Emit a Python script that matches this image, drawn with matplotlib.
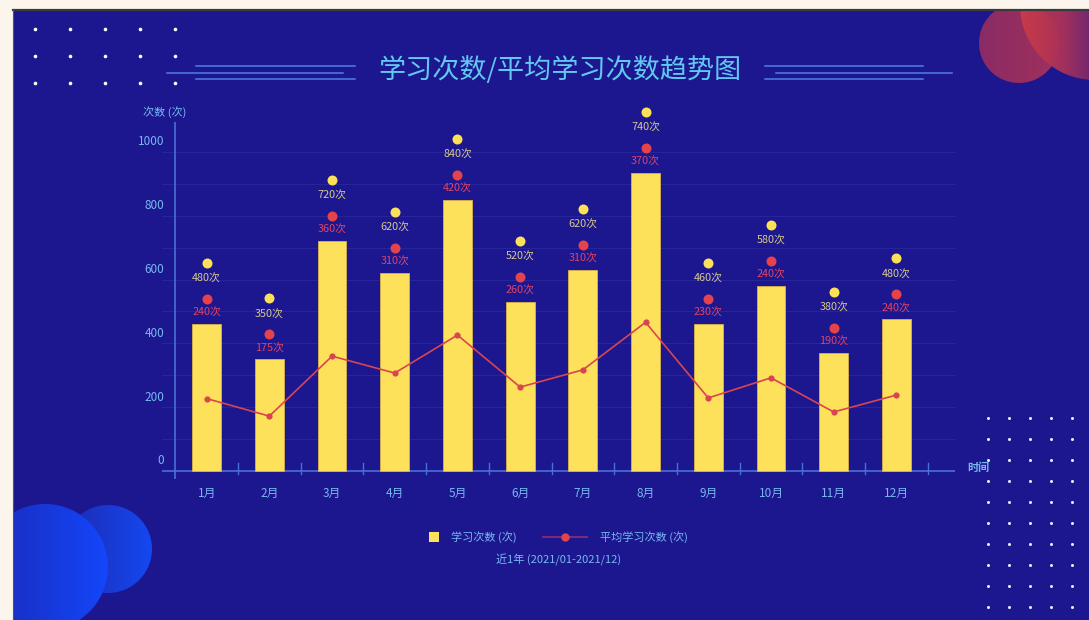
import numpy as np
import matplotlib
matplotlib.use('Agg')
import matplotlib.pyplot as plt
from matplotlib.patches import Circle, Rectangle
from matplotlib.colors import LinearSegmentedColormap
from matplotlib.transforms import ScaledTranslation

plt.rcParams['font.family'] = ['Noto Sans CJK SC', 'DejaVu Sans']

# data
months = ['1月', '2月', '3月', '4月', '5月', '6月', '7月', '8月', '9月', '10月', '11月', '12月']
study_counts = [460, 350, 720, 620, 850, 530, 630, 935, 460, 580, 370, 475]
avg_counts = [227, 172, 360, 307, 426, 263, 317, 466, 229, 292, 185, 238]
study_labels = [480, 350, 720, 620, 840, 520, 620, 740, 460, 580, 380, 480]
avg_labels = [240, 175, 360, 310, 420, 260, 310, 370, 230, 240, 190, 240]
yticks = [0, 200, 400, 600, 800, 1000]

W, H = 1089, 620
BG = '#1c178f'
CREAM = '#fcf5ee'
TXT = '#78b8f0'
YEL = '#fde15b'
RED = '#e5434c'

fig = plt.figure(figsize=(W / 100, H / 100), dpi=100)
fig.patch.set_facecolor(CREAM)

# background layer in pixel coordinates
bg = fig.add_axes([0, 0, 1, 1])
bg.axis('off')
bg.add_patch(Rectangle((13, 10), W - 13, H - 10, facecolor=BG, edgecolor='none', zorder=0))


def grad_circle(cx, cy, r, colors, alpha=1.0, z=1):
    circ = Circle((cx, cy), r, facecolor='none', edgecolor='none')
    bg.add_patch(circ)
    grad = np.linspace(0, 1, 256).reshape(1, -1)
    cmap = LinearSegmentedColormap.from_list('g', colors)
    im = bg.imshow(grad, extent=(cx - r, cx + r, cy + r, cy - r), cmap=cmap,
                   alpha=alpha, aspect='auto', zorder=z, interpolation='bilinear')
    im.set_clip_path(circ)


# decorative circles
grad_circle(1019, 43, 40, ['#8a2b66', '#a0305a'], z=1)
grad_circle(1095, 5, 75, [(0, '#cc3b48'), (0.3, '#a8325a'), (0.45, '#7e2a6c'), (1, '#6c2670')],
            alpha=0.95, z=2)
grad_circle(108, 549, 44, ['#1f2ab0', '#1448f2'], z=1)
grad_circle(45, 567, 63, ['#1a2ab8', '#1446fa'], z=2)

# dot grids
for yy in [28.5, 55.6, 82.7]:
    bg.plot([35, 70, 105, 140, 175], [yy] * 5, 'o', color='white', ms=2.6, mec='none', zorder=3)
for yy in np.arange(418, 610, 21):
    bg.plot([988, 1009, 1030, 1051, 1072], [yy] * 5, 'o', color='#e8e8ff', ms=2.2, mec='none', zorder=3)

# lines around the title
for x0, x1, yy in [(196, 355, 66), (167, 343, 73), (196, 355, 78.5),
                   (765, 923, 66), (776, 952, 73), (765, 923, 78.5)]:
    bg.plot([x0, x1], [yy, yy], color='#4f7fe6', lw=1.1, zorder=3)

# cream margins and border
bg.add_patch(Rectangle((0, 0), W, 10, facecolor=CREAM, edgecolor='none', zorder=5))
bg.add_patch(Rectangle((0, 0), 13, H, facecolor=CREAM, edgecolor='none', zorder=5))
bg.plot([13, W], [10, 10], color='#3a3a3a', lw=1.6, zorder=6)
bg.plot([13, 13], [10, H], color='#555555', lw=0.8, zorder=6)

# legend drawn by hand
bg.add_patch(Rectangle((429, 532), 10, 10, facecolor=YEL, edgecolor='none', zorder=3))
bg.text(451, 537, '学习次数 (次)', color=TXT, fontsize=8, va='center', ha='left', zorder=3)
bg.plot([543, 587], [537, 537], color='#7a2a78', lw=1.5, zorder=3)
bg.plot([565], [537], 'o', color=RED, ms=6, mec='none', zorder=4)
bg.text(600, 537, '平均学习次数 (次)', color=TXT, fontsize=8, va='center', ha='left', zorder=3)
bg.text(559, 560, '近1年 (2021/01-2021/12)', color=TXT, fontsize=8, va='center', ha='center', zorder=3)

bg.text(560, 70, '学习次数/平均学习次数趋势图', color='#62c8f2', fontsize=19.5,
        ha='center', va='center', zorder=3)
bg.text(165, 112, '次数 (次)', color=TXT, fontsize=8, ha='center', va='center', zorder=3)
bg.text(978, 467, '时间', color=TXT, fontsize=8, ha='center', va='center',
        fontweight='bold', zorder=3)

bg.set_xlim(0, W)
bg.set_ylim(H, 0)

# chart axes
ax = fig.add_axes([162 / W, 1 - 479 / H, (955 - 162) / W, (479 - 122) / H])
ax.patch.set_alpha(0)
for s in ax.spines.values():
    s.set_visible(False)
ax.set_xticks([])
ax.set_yticks([])
ax.set_xlim(-0.712, 11.935)
ax.set_ylim(-25.1, 1094)

x = np.arange(len(months))
for v in range(100, 1001, 100):
    ax.axhline(v, color='#27259a', lw=0.8, zorder=0)
ax.axhline(0, color='#4a6fd8', lw=1.2, zorder=1)
ax.axvline(-0.5, color='#4a6fd8', lw=1.2, zorder=1)
for b in np.arange(0.5, 12, 1):
    ax.plot([b, b], [-9, 25], color='#4a6fd8', lw=1.0, zorder=1)

ax.bar(x, study_counts, width=0.46, color=YEL, edgecolor='#d9b24a', lw=0.6, zorder=2)
ax.plot(x, avg_counts, color='#d9454f', lw=1.2, marker='o', ms=4.5, mec='none', zorder=3)

px = 1 / 100
off_y = ax.transData + ScaledTranslation(0, 61 * px, fig.dpi_scale_trans)
off_r = ax.transData + ScaledTranslation(0, 25 * px, fig.dpi_scale_trans)
ax.plot(x, study_counts, 'o', color='#fbe05a', ms=7.2, mec='none', transform=off_y, clip_on=False, zorder=4)
ax.plot(x, study_counts, 'o', color=RED, ms=7.2, mec='none', transform=off_r, clip_on=False, zorder=4)
for i, v in enumerate(study_counts):
    ax.annotate(f'{study_labels[i]}次', (i, v), xytext=(0, 45 * 0.72), textcoords='offset points',
                ha='center', va='center', color='#d6c98f', fontsize=7.8, annotation_clip=False)
    ax.annotate(f'{avg_labels[i]}次', (i, v), xytext=(0, 11 * 0.72), textcoords='offset points',
                ha='center', va='center', color='#de4468', fontsize=7.8, annotation_clip=False)

# axis tick labels
tick_off = ax.transData + ScaledTranslation(0, 10 * px, fig.dpi_scale_trans)
for v in yticks:
    ax.text(-0.68, v, str(v), transform=tick_off, ha='right', va='center', color=TXT, fontsize=8.5)
for i, m in enumerate(months):
    ax.text(i, -69, m, ha='center', va='center', color=TXT, fontsize=8.5, clip_on=False)

fig.savefig('out.png', dpi=100, facecolor=fig.get_facecolor())
